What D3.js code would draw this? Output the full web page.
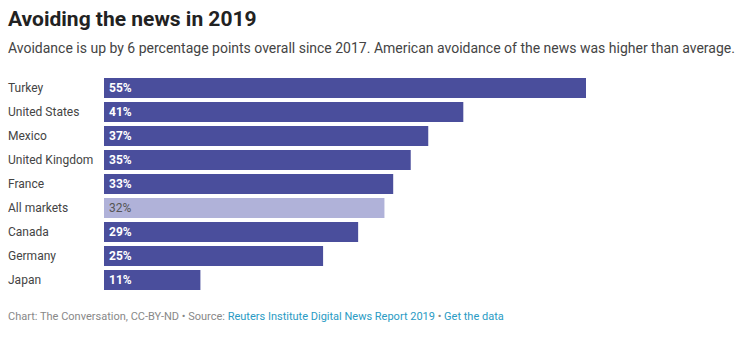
<!DOCTYPE html>
<html>
<head>
<meta charset="utf-8">
<script src="https://cdn.jsdelivr.net/npm/d3@7"></script>
<style>
  body { margin: 0; background: #fff; font-family: Roboto, sans-serif; }
  svg { display: block; }
</style>
</head>
<body>
<svg id="chart" width="747" height="341"></svg>
<script>
(function () {
  const width = 747;
  const height = 341;
  const padding = { top: 78, left: 104, right: 161, bottom: 51 };

  const countries = ['Turkey', 'United States', 'Mexico', 'United Kingdom', 'France',
    'All markets', 'Canada', 'Germany', 'Japan'];
  const values = [55, 41, 37, 35, 33, 32, 29, 25, 11];
  const highlight = 'All markets';

  const data = countries.map((c, i) => ({ country: c, value: values[i] }));

  const svg = d3.select('#chart');

  svg.append('text')
    .attr('x', 8).attr('y', 26)
    .attr('font-size', 21).attr('font-weight', 700).attr('fill', '#222')
    .text('Avoiding the news in 2019');

  svg.append('text')
    .attr('x', 8).attr('y', 53)
    .attr('font-size', 14).attr('fill', '#444')
    .text('Avoidance is up by 6 percentage points overall since 2017. American avoidance of the news was higher than average.');

  const xScale = d3.scaleLinear()
    .domain([0, 55])
    .range([padding.left, width - padding.right]);

  const yScale = d3.scaleBand()
    .domain(countries)
    .range([padding.top, height - padding.bottom])
    .paddingInner(0.1667)
    .paddingOuter(0);

  const rows = svg.append('g').selectAll('g')
    .data(data)
    .enter().append('g');

  rows.append('rect')
    .attr('x', xScale(0))
    .attr('y', d => yScale(d.country))
    .attr('width', d => xScale(d.value) - xScale(0))
    .attr('height', yScale.bandwidth())
    .attr('fill', d => d.country === highlight ? '#b0b2d9' : '#4a4e9c');

  rows.append('text')
    .attr('x', 8)
    .attr('y', d => yScale(d.country) + yScale.bandwidth() / 2)
    .attr('dy', '0.35em')
    .attr('font-size', 12).attr('fill', '#444')
    .text(d => d.country);

  rows.append('text')
    .attr('x', xScale(0) + 5)
    .attr('y', d => yScale(d.country) + yScale.bandwidth() / 2)
    .attr('dy', '0.35em')
    .attr('font-size', 12)
    .attr('font-weight', d => d.country === highlight ? 400 : 700)
    .attr('fill', d => d.country === highlight ? '#555' : '#fff')
    .text(d => d.value + '%');

  const foot = svg.append('text')
    .attr('x', 8).attr('y', 320)
    .attr('font-size', 11).attr('fill', '#888');
  foot.append('tspan').text('Chart: The Conversation, CC-BY-ND • Source: ');
  foot.append('tspan').attr('fill', '#2a9bc4').text('Reuters Institute Digital News Report 2019');
  foot.append('tspan').text(' • ');
  foot.append('tspan').attr('fill', '#2a9bc4').text('Get the data');
})();
</script>
</body>
</html>
